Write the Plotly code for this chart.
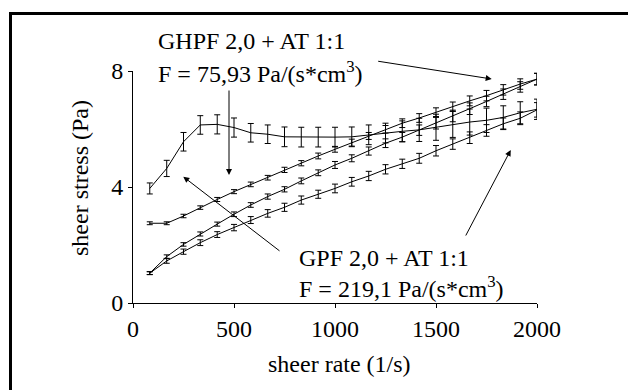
import plotly.graph_objects as go

# shear rate (1/s)
shear_rate = [83, 167, 250, 333, 417, 500, 583, 667, 750, 833, 917, 1000,
              1083, 1167, 1250, 1333, 1417, 1500, 1583, 1667, 1750, 1833, 1917, 2000]

# GPF 2,0 + AT 1:1 (curve with early peak)
gpf_a = [3.95, 4.64, 5.56, 6.14, 6.16, 6.05, 5.87, 5.82, 5.73, 5.72, 5.72, 5.72,
         5.73, 5.80, 5.86, 5.92, 5.97, 6.06, 6.16, 6.24, 6.30, 6.40, 6.56, 6.68]
gpf_a_err = [0.19, 0.28, 0.32, 0.32, 0.33, 0.33, 0.32, 0.32, 0.34, 0.34, 0.34, 0.34,
             0.34, 0.34, 0.34, 0.36, 0.40, 0.45, 0.45, 0.45, 0.42, 0.40, 0.38, 0.35]

# GHPF 2,0 + AT 1:1 (upper rising curve)
ghpf_b = [2.75, 2.75, 3.00, 3.29, 3.57, 3.84, 4.09, 4.32, 4.59, 4.82, 5.07, 5.30,
          5.53, 5.76, 5.99, 6.20, 6.38, 6.58, 6.77, 6.97, 7.15, 7.35, 7.55, 7.72]
ghpf_b_err = [0.05, 0.05, 0.06, 0.06, 0.07, 0.07, 0.08, 0.08, 0.09, 0.09, 0.10, 0.10,
              0.12, 0.12, 0.13, 0.15, 0.15, 0.15, 0.16, 0.17, 0.18, 0.18, 0.18, 0.20]

# GHPF 2,0 + AT 1:1 (lower rising curve)
ghpf_c = [1.03, 1.60, 2.02, 2.38, 2.72, 3.06, 3.38, 3.67, 3.92, 4.21, 4.49, 4.76,
          4.99, 5.24, 5.51, 5.72, 5.96, 6.20, 6.45, 6.70, 6.95, 7.20, 7.45, 7.72]
ghpf_c_err = [0.05, 0.06, 0.06, 0.07, 0.07, 0.08, 0.08, 0.09, 0.09, 0.10, 0.10, 0.12,
              0.12, 0.14, 0.15, 0.16, 0.18, 0.20, 0.20, 0.20, 0.18, 0.18, 0.18, 0.20]

# GPF 2,0 + AT 1:1 (bottom curve)
gpf_d = [1.03, 1.45, 1.77, 2.08, 2.36, 2.60, 2.86, 3.09, 3.30, 3.55, 3.75, 3.95,
         4.18, 4.38, 4.61, 4.80, 4.99, 5.25, 5.48, 5.70, 5.95, 6.18, 6.37, 6.66]
gpf_d_err = [0.05, 0.08, 0.09, 0.10, 0.10, 0.11, 0.12, 0.13, 0.14, 0.14, 0.14, 0.15,
             0.15, 0.16, 0.16, 0.16, 0.17, 0.18, 0.18, 0.20, 0.20, 0.20, 0.22, 0.25]

x_ticks = [0, 500, 1000, 1500, 2000]
y_ticks = [0, 4, 8]

FONT = "Liberation Serif"

fig = go.Figure()
for name, ys, es in [("GPF 2,0 + AT 1:1", gpf_a, gpf_a_err),
                     ("GHPF 2,0 + AT 1:1", ghpf_b, ghpf_b_err),
                     ("GHPF 2,0 + AT 1:1 ", ghpf_c, ghpf_c_err),
                     ("GPF 2,0 + AT 1:1 ", gpf_d, gpf_d_err)]:
    fig.add_trace(go.Scatter(
        x=shear_rate, y=ys, name=name, mode="lines",
        line=dict(color="black", width=1),
        error_y=dict(type="data", array=es, visible=True,
                     color="black", thickness=1, width=3),
        cliponaxis=False, showlegend=False))

ml, mr, mt, mb = 133, 91, 71, 87
W, H = 628, 390
pw, ph = W - ml - mr, H - mt - mb

def px(xp):
    return (xp - ml) / pw

def py(yp):
    return (H - mb - yp) / ph

fig.update_layout(
    width=W, height=H,
    margin=dict(l=ml, r=mr, t=mt, b=mb),
    paper_bgcolor="white", plot_bgcolor="white",
    font=dict(family=FONT, size=23, color="black"),
    xaxis=dict(range=[0, 2000], tickvals=x_ticks, showgrid=False, zeroline=False,
               showline=True, linecolor="black", linewidth=1,
               ticks="outside", ticklen=4, tickcolor="black", tickwidth=1,
               tickfont=dict(family=FONT, size=24)),
    yaxis=dict(range=[0, 8], tickvals=y_ticks, showgrid=False, zeroline=False,
               showline=True, linecolor="black", linewidth=1,
               ticks="outside", ticklen=4, tickcolor="black", tickwidth=1,
               tickfont=dict(family=FONT, size=24)),
    shapes=[dict(type="rect", xref="paper", yref="paper",
                 x0=px(10.5), x1=px(640), y0=py(400), y1=py(13.5),
                 line=dict(color="black", width=3), fillcolor="rgba(0,0,0,0)",
                 layer="above")],
)

TF = dict(family=FONT, size=24, color="black")
annotations = [
    # axis titles
    dict(text="sheer rate (1/s)", x=px(339), y=py(364), xref="paper", yref="paper",
         showarrow=False, xanchor="center", yanchor="middle", font=TF),
    dict(text="sheer stress (Pa)", x=px(80), y=py(178), xref="paper", yref="paper",
         showarrow=False, xanchor="center", yanchor="middle", textangle=-90,
         font=TF),
    # labels
    dict(text="GHPF 2,0 + AT 1:1", x=px(156), y=py(41), xref="paper", yref="paper",
         showarrow=False, xanchor="left", yanchor="middle", font=TF),
    dict(text="F = 75,93 Pa/(s*cm<sup>3</sup>)", x=px(156), y=py(72), xref="paper",
         yref="paper", showarrow=False, xanchor="left", yanchor="middle", font=TF),
    dict(text="GPF 2,0 + AT 1:1", x=px(297), y=py(258), xref="paper", yref="paper",
         showarrow=False, xanchor="left", yanchor="middle", font=TF),
    dict(text="F = 219,1 Pa/(s*cm<sup>3</sup>)", x=px(297), y=py(287), xref="paper",
         yref="paper", showarrow=False, xanchor="left", yanchor="middle", font=TF),
]

# arrows: (head_x_px, head_y_px, tail_x_px, tail_y_px)
arrows = [(491.7, 79, 376.7, 61),
          (229, 175, 229, 89),
          (183.3, 176.7, 281, 252),
          (510.7, 150, 465, 237)]
for hx, hy, tx, ty in arrows:
    annotations.append(dict(
        text="", x=px(hx), y=py(hy), xref="paper", yref="paper",
        ax=tx - hx, ay=ty - hy, showarrow=True,
        arrowhead=2, arrowsize=1.2, arrowwidth=1, arrowcolor="black"))

fig.update_layout(annotations=annotations)
fig.write_html("out.html")
